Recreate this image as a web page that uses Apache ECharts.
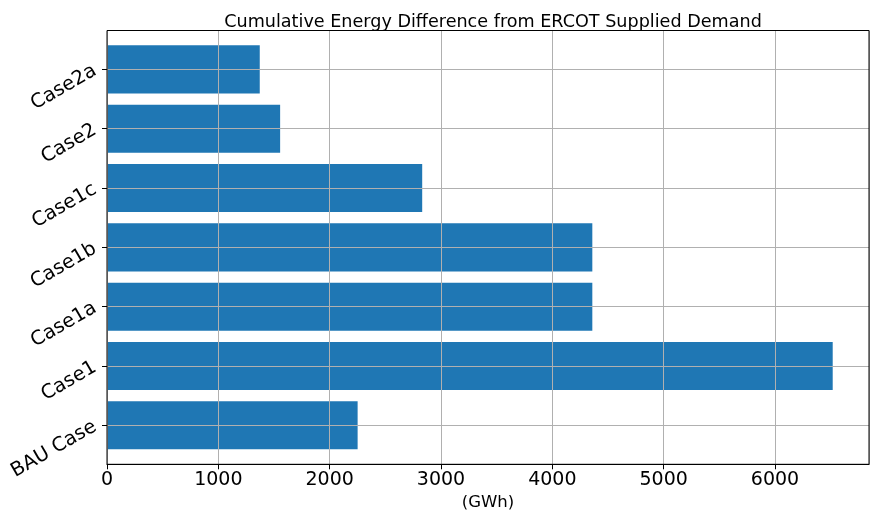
<!DOCTYPE html>
<html><head><meta charset="utf-8">
<script src="https://cdn.jsdelivr.net/npm/echarts@6/dist/echarts.min.js"></script>
<style>html,body{margin:0;padding:0;background:#fff}#c{width:870px;height:511px}</style>
</head><body><div id="c"></div>
<script>
const categories = ['BAU Case', 'Case1', 'Case1a', 'Case1b', 'Case1c', 'Case2', 'Case2a'];
const values = [2251, 6518, 4359, 4359, 2831, 1555, 1372];
const xTicks = [0, 1000, 2000, 3000, 4000, 5000, 6000];
const xMax = 6844;

const chart = echarts.init(document.getElementById('c'), null, {renderer: 'canvas'});
const font = 'DejaVu Sans';
chart.setOption({
  animation: false,
  backgroundColor: '#fff',
  textStyle: {fontFamily: font},
  title: {
    text: 'Cumulative Energy Difference from ERCOT Supplied Demand',
    left: 488, top: 8, textAlign: 'center',
    textStyle: {fontFamily: font, fontSize: 17.6, fontWeight: 'normal', color: '#000'}
  },
  grid: [
    {left: 107, right: 1, top: 30.5, bottom: 46.7, show: true, z: 10,
     outerBoundsMode: 'none', containLabel: false,
     borderColor: '#000', borderWidth: 1, backgroundColor: 'transparent'},
    {left: 107, right: 1, top: 39.7, bottom: 56, outerBoundsMode: 'none', containLabel: false}
  ],
  xAxis: [
    {type: 'value', gridIndex: 0, min: 0, max: xMax, interval: 1000, z: 5,
     name: '(GWh)', nameLocation: 'middle', nameGap: 30,
     nameTextStyle: {fontFamily: font, fontSize: 16.5, color: '#000'},
     axisLine: {show: true, lineStyle: {color: '#000', width: 1}},
     axisTick: {show: true, length: 5, lineStyle: {color: '#000'}},
     axisLabel: {fontFamily: font, fontSize: 19, color: '#000', margin: 6,
                 formatter: v => xTicks.includes(v) ? String(v) : '', showMaxLabel: false},
     splitLine: {show: true, lineStyle: {color: '#b0b0b0', width: 1}}},
    {type: 'value', gridIndex: 1, min: 0, max: xMax, show: false}
  ],
  yAxis: [
    {type: 'value', gridIndex: 0, show: false, min: 0, max: 1},
    {type: 'category', gridIndex: 1, data: categories,
     axisLine: {show: true, lineStyle: {color: '#000'}},
     axisTick: {show: true, alignWithLabel: true, length: 5, lineStyle: {color: '#000'}},
     axisLabel: {fontFamily: font, fontSize: 19.5, color: '#000', rotate: 30, margin: 12},
     splitLine: {show: false}}
  ],
  series: [{
    type: 'bar', xAxisIndex: 1, yAxisIndex: 1, data: values,
    barCategoryGap: '19%',
    itemStyle: {color: '#1f77b4'},
    markLine: {
      silent: true, symbol: 'none', label: {show: false},
      lineStyle: {color: '#b0b0b0', width: 1, type: 'solid'},
      data: categories.map(c => ({yAxis: c}))
    }
  }]
});
</script></body></html>
